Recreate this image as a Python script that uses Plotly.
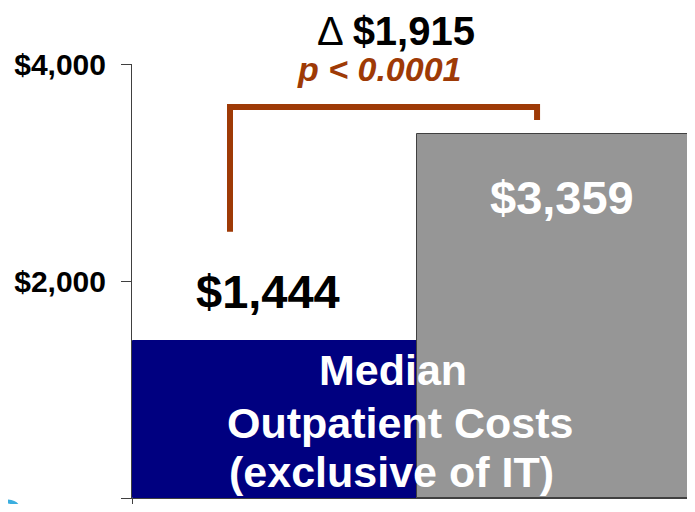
import plotly.graph_objects as go

groups = ["Control", "Intervention"]
median_costs = [1444, 3359]
bar_colors = ["#000080", "#969696"]
y_ticks = [0, 2000, 4000]
y_tick_labels = ["$0", "$2,000", "$4,000"]
p_value_text = "p < 0.0001"
bar_caption = ["Median", "Outpatient Costs", "(exclusive of IT)"]

FONT = "Liberation Sans, Arial, sans-serif"
BRACKET = "#9E3A06"

delta = median_costs[1] - median_costs[0]

fig = go.Figure()

fig.add_trace(go.Bar(
    x=[0, 1],
    y=median_costs,
    width=1,
    marker=dict(color=bar_colors, line=dict(color=["#000080", "#404040"], width=1)),
    hoverinfo="skip",
    showlegend=False,
))

# bracket between the bars
fig.add_trace(go.Scatter(
    x=[-0.158, -0.158, 0.923, 0.923],
    y=[median_costs[0] + 1010, median_costs[1] + 245, median_costs[1] + 245, median_costs[1] + 125],
    mode="lines",
    line=dict(color=BRACKET, width=6),
    hoverinfo="skip",
    showlegend=False,
))

# value labels
fig.add_annotation(x=-0.025, y=1899, xref="x", yref="y", text="<b>$%s</b>" % format(median_costs[0], ","),
                   showarrow=False, font=dict(family=FONT, size=47, color="black"))
fig.add_annotation(x=1.01, y=2774, xref="x", yref="y", text="<b>$%s</b>" % format(median_costs[1], ","),
                   showarrow=False, font=dict(family=FONT, size=47, color="white"))

# caption, one annotation per line (tighter line spacing than plotly's default)
for line, xc, yc in zip(bar_caption, [0.416, 0.44, 0.412], [1180, 691, 240]):
    fig.add_annotation(x=xc, y=yc, xref="x", yref="y", text="<b>%s</b>" % line,
                       showarrow=False, font=dict(family=FONT, size=43, color="white"))

# difference and p value
fig.add_annotation(x=0.426, y=1.076, xref="x", yref="paper", yanchor="middle",
                   text="Δ <b>$%s</b>" % format(delta, ","),
                   showarrow=False, font=dict(family=FONT, size=40, color="black"))
fig.add_annotation(x=0.37, y=0.988, xref="x", yref="paper", yanchor="middle",
                   text="<b><i>%s</i></b>" % p_value_text,
                   showarrow=False, font=dict(family=FONT, size=34, color=BRACKET))

# bit of a cropped logo in the corner
fig.add_shape(type="path", xref="paper", yref="paper",
              path="M -0.222 -0.008 Q -0.201 -0.010 -0.202 -0.03",
              line=dict(color="#3BAEDF", width=4))

# page body has an 8px margin, so size/margins are shifted to land in the 695x512 window
fig.update_layout(
    width=687,
    height=496,
    margin=dict(l=124, r=0, t=56, b=6),
    plot_bgcolor="white",
    paper_bgcolor="white",
    bargap=0,
    font=dict(family=FONT),
    xaxis=dict(range=[-0.503, 1.479], tickvals=[-0.5], showticklabels=False, ticks="outside",
               ticklen=5, tickcolor="#404040", showgrid=False, zeroline=False,
               showline=True, linecolor="#404040", linewidth=1),
    yaxis=dict(range=[0, 4000], tickvals=y_ticks, ticktext=["<b>%s</b>" % t for t in y_tick_labels],
               showgrid=False, zeroline=False, showline=True, linecolor="#404040", linewidth=1,
               ticks="outside", ticklen=10, tickcolor="#404040", ticklabelstandoff=9,
               tickfont=dict(family=FONT, size=30, color="black")),
)

fig.write_html("out.html")
